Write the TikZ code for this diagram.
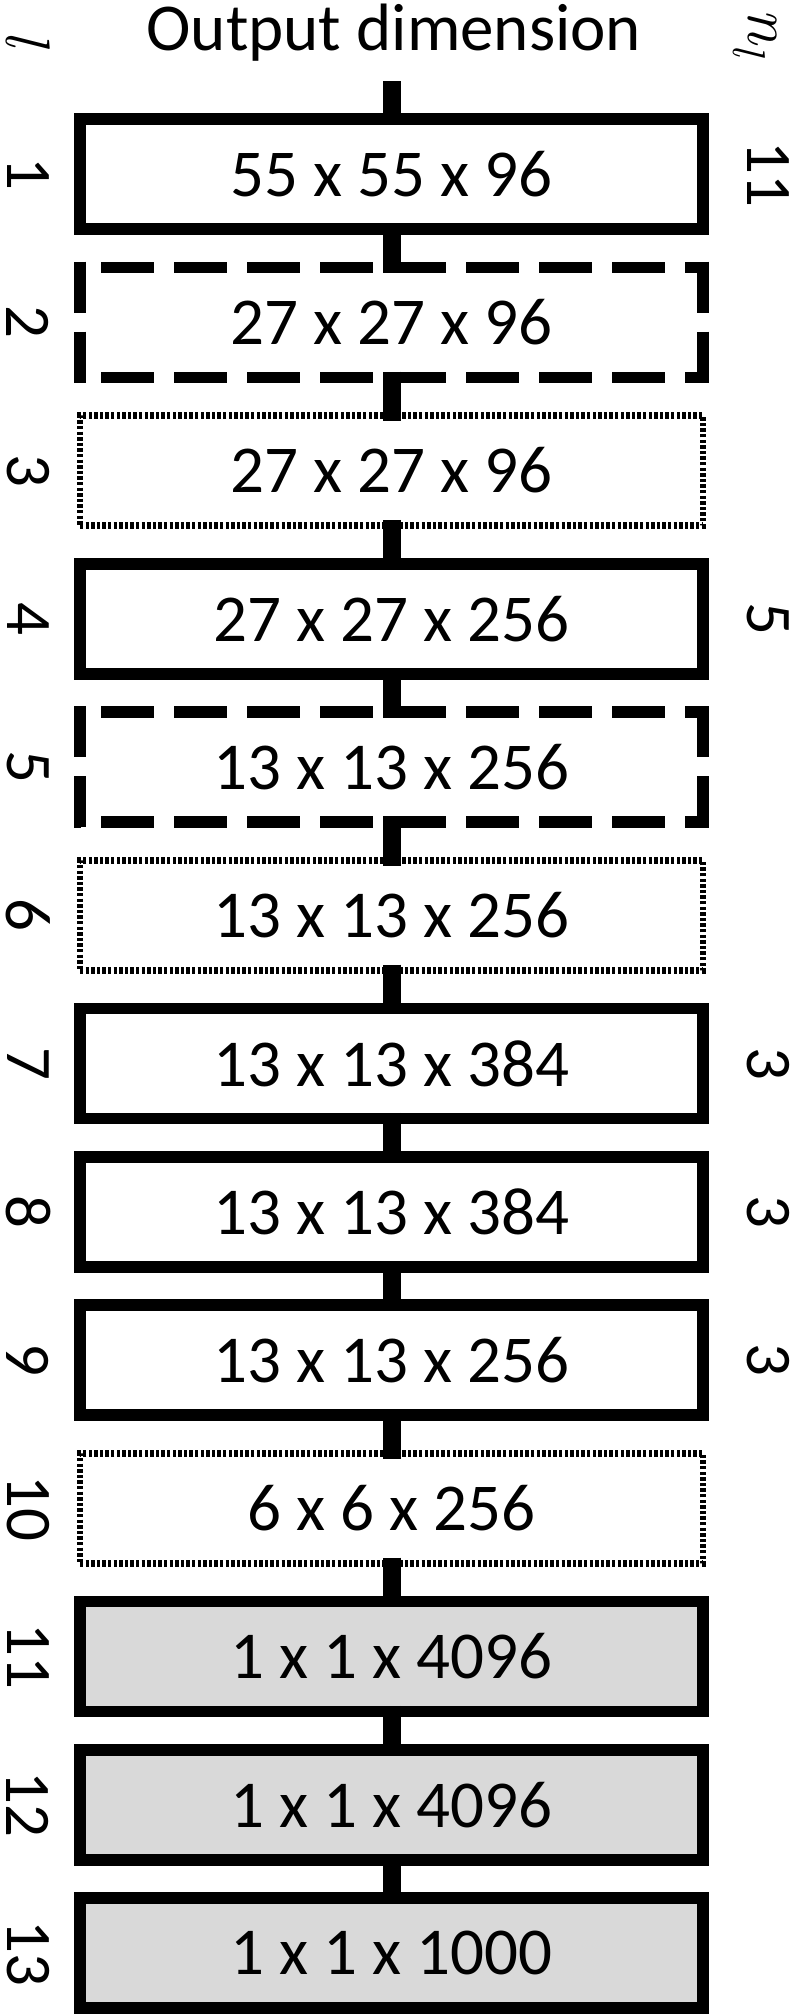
\documentclass[tikz,border=0pt]{standalone}
\usepackage{fontspec}
\setmainfont{Carlito}
\newfontfamily\lmfam{Latin Modern Roman}
\definecolor{boxgray}{HTML}{D9D9D9}
\begin{document}
\begin{tikzpicture}[x=1pt,y=-1pt,
  lay/.style={rectangle, minimum width=623pt, minimum height=110pt, outer sep=0pt, inner sep=0pt, font=\fontsize{67}{80}\selectfont},
  solidbox/.style={lay, draw, line width=11.5pt, fill=white},
  graybox/.style={lay, draw, line width=11.5pt, fill=boxgray},
  dotbox/.style={lay, draw, line width=6.5pt, dash pattern=on 3.4pt off 2.2pt, fill=white},
  dashbox/.style={lay},
  dashh/.style={line width=11.5pt, dash pattern=on 53pt off 20pt, dash phase=46pt},
  dashv/.style={line width=11.5pt, dash pattern=on 51pt off 19pt},
  conn/.style={line width=18pt, shorten <=-5.75pt, shorten >=-5.75pt},
  lnum/.style={rotate=-90, font=\fontsize{65}{78}\selectfont, inner sep=0pt},
  ttl/.style={font=\fontsize{67}{80}\selectfont, inner sep=0pt}]
\useasboundingbox (0,0) rectangle (794,2016);

\foreach \i/\t/\s in {1/55 x 55 x 96/solidbox, 2/27 x 27 x 96/dashbox, 3/27 x 27 x 96/dotbox,
  4/27 x 27 x 256/solidbox, 5/13 x 13 x 256/dashbox, 6/13 x 13 x 256/dotbox,
  7/13 x 13 x 384/solidbox, 8/13 x 13 x 384/solidbox, 9/13 x 13 x 256/solidbox,
  10/6 x 6 x 256/dotbox, 11/1 x 1 x 4096/graybox, 12/1 x 1 x 4096/graybox, 13/1 x 1 x 1000/graybox}
{
  \node[\s] (b\i) at (391.5,{174+(\i-1)*148.25}) {\t};
  \node[lnum] (l\i) at (28,{174+(\i-1)*148.25}) {\i};
}

\foreach \b in {b2,b5}{
  \draw[dashv] ([yshift=5.75pt]\b.north west) -- ([yshift=-5.75pt]\b.south west);
  \draw[dashv] ([yshift=5.75pt]\b.north east) -- ([yshift=-5.75pt]\b.south east);
  \draw[dashh] ([xshift=-5.75pt]\b.north west) -- ([xshift=5.75pt]\b.north east);
  \draw[dashh] ([xshift=-5.75pt]\b.south west) -- ([xshift=5.75pt]\b.south east);
}

\coordinate (top) at (391.5,81);
\draw[line width=18pt, shorten >=-5.75pt] (top) -- (b1.north);
\foreach \i in {1,...,12}{
  \pgfmathtruncatemacro\j{\i+1}
  \draw[conn] (b\i.south) -- (b\j.north);
}

\node[ttl, anchor=base] (title) at (394,50) {Output dimension};
\node[rotate=-90, font=\fontsize{63}{70}\selectfont\lmfam\itshape, inner sep=0pt] (lsym) at (28,38) {l};
\node[rotate=-90, font=\fontsize{65}{70}\selectfont\lmfam\itshape, inner sep=0pt] (nsym) at (755,32) {n\raisebox{-0.22em}{\fontsize{46}{50}\selectfont l}};

\node[lnum] (r1) at (768,174) {11};
\node[lnum] (r4) at (768,{174+3*148.25}) {5};
\node[lnum] (r7) at (768,{174+6*148.25}) {3};
\node[lnum] (r8) at (768,{174+7*148.25}) {3};
\node[lnum] (r9) at (768,{174+8*148.25}) {3};
\end{tikzpicture}
\end{document}
